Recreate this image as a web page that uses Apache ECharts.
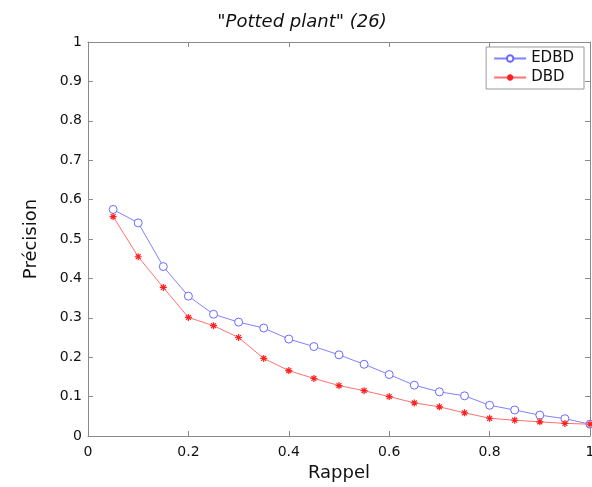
<!DOCTYPE html>
<html><head><meta charset="utf-8">
<script src="https://cdn.jsdelivr.net/npm/echarts@6/dist/echarts.min.js"></script>
<style>html,body{margin:0;padding:0;background:#fff}#c{width:592px;height:487px}</style>
</head><body><div id="c"></div>
<script>
const recall = [0.05,0.1,0.15,0.2,0.25,0.3,0.35,0.4,0.45,0.5,0.55,0.6,0.65,0.7,0.75,0.8,0.85,0.9,0.95,1.0];
const edbd = [0.575,0.541,0.430,0.355,0.309,0.289,0.274,0.246,0.227,0.206,0.182,0.156,0.129,0.112,0.102,0.078,0.066,0.053,0.044,0.030];
const dbd  = [0.557,0.455,0.377,0.301,0.280,0.250,0.197,0.166,0.146,0.128,0.115,0.100,0.084,0.074,0.059,0.045,0.040,0.036,0.032,0.030];
const titleText = '"Potted plant" (26)';
const xName = 'Rappel', yName = 'Précision';

const font = '"DejaVu Sans", Verdana, sans-serif';
const axisCol = '#8a8a8a';
const star = 'path://M0,5 L10,5 M5,0 L5,10 M1.5,1.5 L8.5,8.5 M8.5,1.5 L1.5,8.5';
const baseAxis = (pos, isX, show) => ({
  type:'value', min:0, max:1, interval: isX?0.2:0.1, position:pos,
  axisLine:{show:true,onZero:false,lineStyle:{color:axisCol,width:1}},
  axisTick:{show:true,inside:true,length:5,lineStyle:{color:axisCol}},
  splitLine:{show:false},
  axisLabel:{show:show,color:'#111',fontSize:14,fontFamily:font,margin:isX?9:6,
    formatter:v=>String(Math.round(v*10)/10)}
});
const chart = echarts.init(document.getElementById('c'),null,{renderer:'canvas'});
const xa = baseAxis('bottom',true,true);
xa.name = xName; xa.nameLocation='middle'; xa.nameGap=24;
xa.nameTextStyle={fontSize:18,fontFamily:font,color:'#111'};
const ya = baseAxis('left',false,true);
ya.name = yName; ya.nameLocation='middle'; ya.nameGap=48;
ya.nameTextStyle={fontSize:18,fontFamily:font,color:'#111'};
chart.setOption({
  animation:false,
  title:{text:titleText,left:297,top:8,textAlign:'center',
    textStyle:{fontSize:18,fontStyle:'italic',fontWeight:'normal',fontFamily:font,color:'#111'}},
  grid:{left:88,right:2,top:42,bottom:51,outerBoundsMode:'none',containLabel:false},
  legend:{right:8,top:47,orient:'vertical',backgroundColor:'#fff',borderColor:'#999',borderWidth:1,
    padding:[4,10,4,7],itemGap:4,itemWidth:32,itemHeight:8,
    textStyle:{fontSize:15,fontFamily:font,color:'#111'},
    data:['EDBD','DBD']},
  xAxis:[xa, baseAxis('top',true,false)],
  yAxis:[ya, baseAxis('right',false,false)],
  series:[
    {name:'EDBD',type:'line',data:recall.map((r,i)=>[r,edbd[i]]),
      symbol:'circle',symbolSize:8,
      lineStyle:{color:'#8080ff',width:1},
      itemStyle:{color:'#ffffff',borderColor:'#6a6aff',borderWidth:1}},
    {name:'DBD',type:'line',data:recall.map((r,i)=>[r,dbd[i]]),
      symbol:star,symbolSize:7,
      lineStyle:{color:'#ff7070',width:1},
      itemStyle:{color:'#ff2020',borderColor:'#ff2020',borderWidth:1.2}}
  ]
});
</script></body></html>
